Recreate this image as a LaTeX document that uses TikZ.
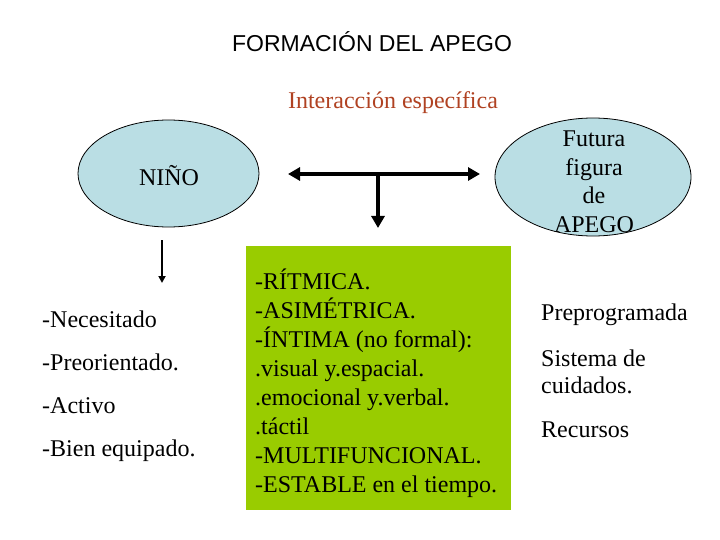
\documentclass[tikz,border=0pt]{standalone}
\usepackage{fontspec}
\setmainfont{Liberation Serif}
\newfontfamily\titlefont{Liberation Sans}
\usetikzlibrary{arrows.meta,shapes.geometric}

\definecolor{celeste}{RGB}{186,222,228}
\definecolor{verdebox}{RGB}{153,204,0}
\definecolor{ladrillo}{RGB}{176,66,34}

\tikzset{
  texto/.style={font=\fontsize{24}{29}\selectfont,inner sep=0pt},
  globo/.style={ellipse,draw=black,line width=0.8pt,fill=celeste,inner sep=0pt},
  flecha/.style={line width=4pt,-{Triangle[length=12pt,width=13pt]}},
}

\begin{document}
\begin{tikzpicture}[x=1pt,y=-1pt]
  \useasboundingbox (0,0) rectangle (720,540);
  \node[texto,font=\titlefont\fontsize{23}{28}\selectfont] (titulo) at (372,42) {FORMACIÓN DEL APEGO};
  \node[texto,text=ladrillo] (interaccion) at (393,103) {Interacción específica};
  \node[globo,minimum width=181pt,minimum height=107pt] (ninio) at (168.5,173.5) {};
  \node[texto] at (169,176) {NIÑO};
  \node[globo,minimum width=196pt,minimum height=118pt] (figura) at (593,177) {};
  \node[texto,align=center,font=\fontsize{24}{28.5}\selectfont] (apego) at (594,182)
    {Futura\\figura\\de\\APEGO};
  \coordinate (izq) at (288,174);
  \coordinate (der) at (480,174);
  \coordinate (centro) at (378,174);
  \coordinate (abajo) at (378,228);
  \draw[flecha,{Triangle[length=12pt,width=13pt]}-{Triangle[length=12pt,width=13pt]}] (izq) -- (der);
  \draw[flecha] (centro) -- (abajo);
  \coordinate (n1) at (162,240);
  \coordinate (n2) at (162,283);
  \draw[line width=2pt,-{Triangle[length=7pt,width=7pt]}] (n1) -- (n2);
  \node[texto,anchor=west,align=left,font=\fontsize{24}{43}\selectfont] (ninolista) at (42,386)
    {-Necesitado\\-Preorientado.\\-Activo\\-Bien equipado.};
  \node[fill=verdebox,minimum width=265pt,minimum height=264pt,inner sep=0pt] (rasgos) at (378.5,378) {};
  \node[texto,anchor=west,align=left] (rasgostxt) at (255,383)
    {-RÍTMICA.\\-ASIMÉTRICA.\\-ÍNTIMA (no formal):\\.visual y.espacial.\\.emocional y.verbal.\\.táctil\\-MULTIFUNCIONAL.\\-ESTABLE en el tiempo.};
  \node[texto,anchor=west] (preprog) at (541,315) {Preprogramada};
  \node[texto,anchor=west,align=left,font=\fontsize{24}{27}\selectfont] (cuidados) at (541,372)
    {Sistema de\\cuidados.};
  \node[texto,anchor=west] (recursos) at (541,430) {Recursos};
\end{tikzpicture}
\end{document}
